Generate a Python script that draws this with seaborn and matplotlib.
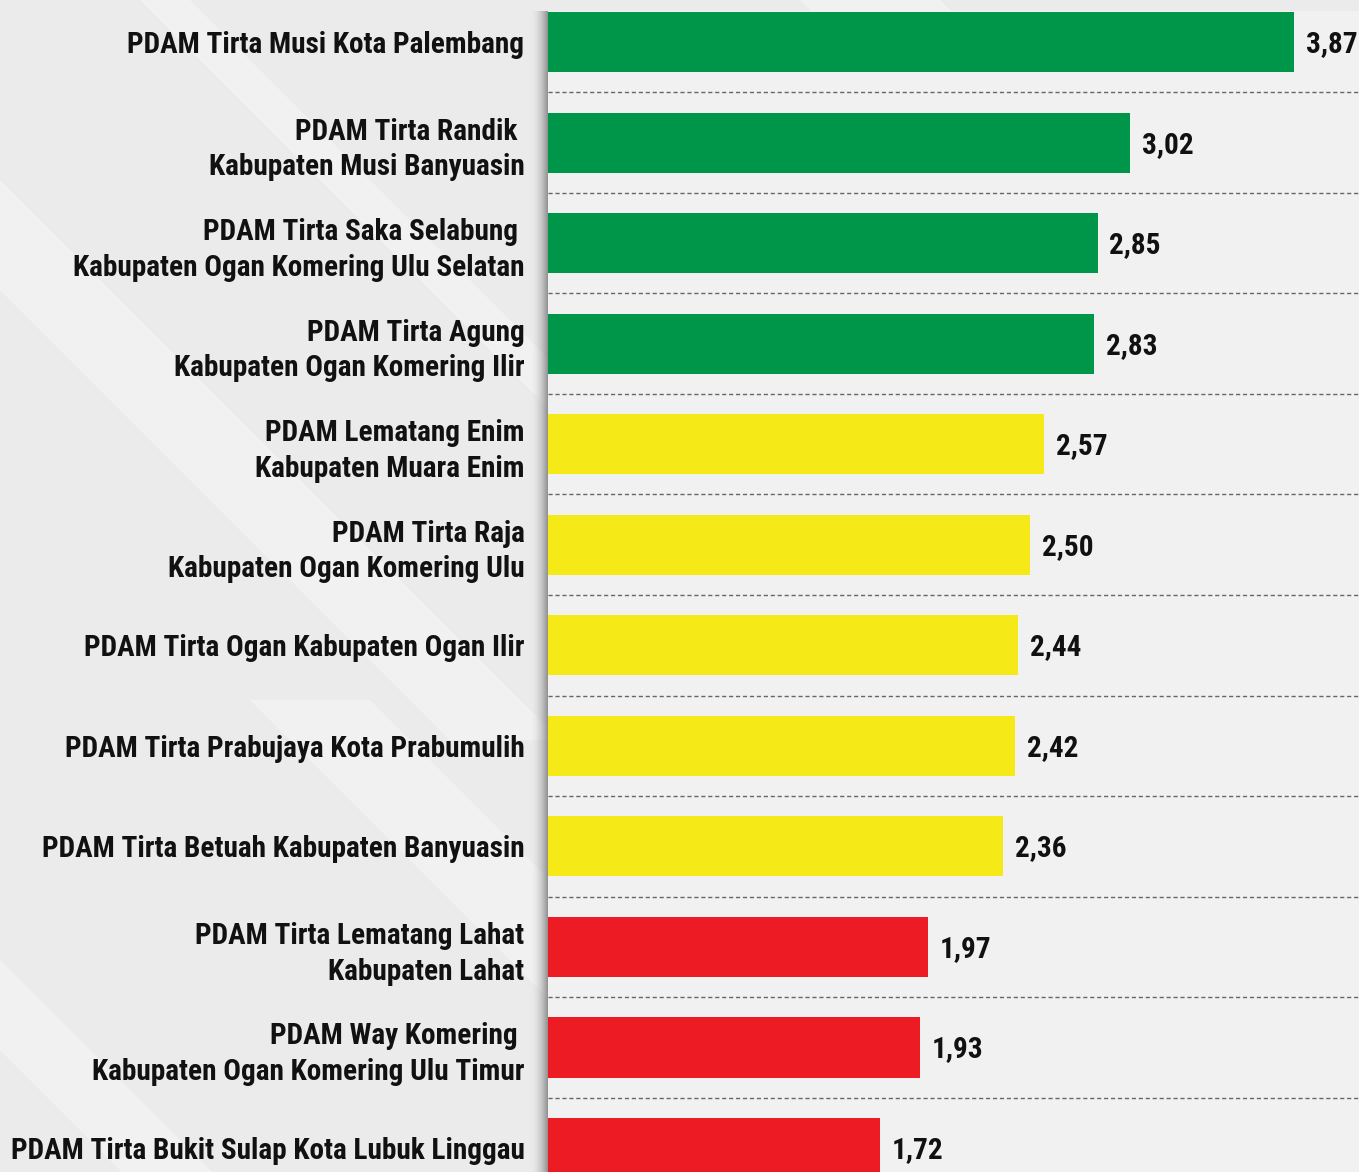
import numpy as np
import matplotlib
matplotlib.use("Agg")
import matplotlib.pyplot as plt
from matplotlib import font_manager as fm
from matplotlib.patches import Polygon
import seaborn as sns

# data
labels = [
    "PDAM Tirta Musi Kota Palembang",
    "PDAM Tirta Randik \nKabupaten Musi Banyuasin",
    "PDAM Tirta Saka Selabung \nKabupaten Ogan Komering Ulu Selatan",
    "PDAM Tirta Agung\nKabupaten Ogan Komering Ilir",
    "PDAM Lematang Enim\nKabupaten Muara Enim",
    "PDAM Tirta Raja\nKabupaten Ogan Komering Ulu",
    "PDAM Tirta Ogan Kabupaten Ogan Ilir",
    "PDAM Tirta Prabujaya Kota Prabumulih",
    "PDAM Tirta Betuah Kabupaten Banyuasin",
    "PDAM Tirta Lematang Lahat\nKabupaten Lahat",
    "PDAM Way Komering \nKabupaten Ogan Komering Ulu Timur",
    "PDAM Tirta Bukit Sulap Kota Lubuk Linggau",
]
scores = [3.87, 3.02, 2.85, 2.83, 2.57, 2.50, 2.44, 2.42, 2.36, 1.97, 1.93, 1.72]
bar_colors = ["#00964A"] * 4 + ["#F5EA17"] * 5 + ["#ED1C24"] * 3

sns.set_style("white")

# pick a narrow bold face if one is installed
installed = {(f.name, f.stretch) for f in fm.fontManager.ttflist}
names = {n for n, _ in installed}
stretch = "normal"
if "Roboto Condensed" in names:
    fam = "Roboto Condensed"
elif "Liberation Sans Narrow" in names:
    fam = "Liberation Sans Narrow"
elif ("DejaVu Sans", "condensed") in installed or ("DejaVu Sans", 87.5) in installed:
    fam, stretch = "DejaVu Sans", "condensed"
elif "Open Sans Condensed" in names:
    fam = "Open Sans Condensed"
else:
    fam = "Lato"
plt.rcParams['font.family'] = [fam, 'DejaVu Sans']
plt.rcParams['font.stretch'] = stretch

W, H = 1359, 1172
fig = plt.figure(figsize=(W / 100, H / 100), dpi=100)
fig.patch.set_facecolor("#ebebeb")

# decorative diagonal light streaks on the background
bg = fig.add_axes([0, 0, 1, 1], zorder=-3)
bg.set_xlim(0, W)
bg.set_ylim(H, 0)
bg.axis("off")
streaks = [(-250, 40, 110), (120, -20, 50), (700, -100, 140), (950, 300, 90), (250, 700, 120), (-150, 900, 90)]
for x0, y0, w in streaks:
    bg.add_patch(Polygon([(x0, y0), (x0 + w, y0), (x0 + w + 700, y0 + 700), (x0 + 700, y0 + 700)],
                         closed=True, color="white", alpha=0.3, lw=0))

ax_left = 548 / W
ax_top = (H - 11) / H

# soft shadow along the left edge of the plotting panel
sh = fig.add_axes([530 / W, 0, 18 / W, ax_top], zorder=-2)
ramp = np.linspace(0, 1, 64) ** 2
img = np.zeros((1, 64, 4))
img[..., :3] = 0.5
img[..., 3] = ramp * 0.85
sh.imshow(img, aspect="auto", extent=(0, 1, 0, 1))
sh.axis("off")

ax = fig.add_axes([ax_left, 0, 1 - ax_left, ax_top])
ax.set_facecolor("#f1f1f1")

sns.barplot(x=scores, y=labels, hue=labels, palette=bar_colors, legend=False,
            orient="h", width=0.6, saturation=1, linewidth=0, ax=ax)

vals = []
for i, v in enumerate(scores):
    vals.append(ax.text(v + 0.062, i + 0.02, f"{v:.2f}".replace(".", ","), va="center", ha="left",
                        fontsize=22, fontweight="bold", color="#111111"))

for i in range(len(scores) - 1):
    ax.axhline(i + 0.5, color="#666666", lw=1, ls=(0, (3, 2)), zorder=0)

ax.set_xlim(0, 4.206)
ax.set_ylim(11.24, -0.31)
ax.set_xticks([])
ax.set_xlabel("")
ax.set_ylabel("")
ax.tick_params(axis="y", length=0, pad=17, labelsize=22)
for t in ax.get_yticklabels():
    t.set_fontweight("bold")
    t.set_color("#111111")
    t.set_linespacing(1.35)
sns.despine(ax=ax, left=True, bottom=True)

# scale the text so the longest category label spans ~513 px as in the reference
fig.canvas.draw()
r = fig.canvas.get_renderer()
widest = max(t.get_window_extent(r).width for t in ax.get_yticklabels())
fs = min(28, 22 * 513 / widest)
ax.tick_params(axis="y", labelsize=fs)
for t in vals:
    t.set_fontsize(fs)

fig.savefig("out.png", dpi=100, facecolor=fig.get_facecolor())
